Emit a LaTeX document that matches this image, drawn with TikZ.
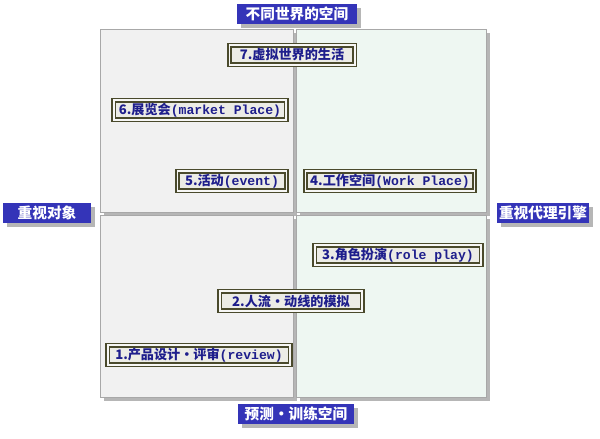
\documentclass[tikz,border=0pt]{standalone}
\usepackage{fontspec}
\setmainfont{Noto Sans CJK SC}
\newfontfamily\latmono{Liberation Mono}
\usepackage{tikz}
\usepackage{xcolor}
\usetikzlibrary{shadows}
\definecolor{axisBlue}{HTML}{3434B8}
\definecolor{itemText}{HTML}{1E1E8C}
\definecolor{itemFrame}{HTML}{4A4A2C}
\definecolor{itemFill}{HTML}{ECECE6}
\definecolor{quadGray}{HTML}{F1F1F1}
\definecolor{quadGreen}{HTML}{EEF7F2}
\definecolor{quadLine}{HTML}{A8A8A8}
\definecolor{shadowGray}{HTML}{B6B6B6}
\newcommand{\pxu}{pt*0.85}
\newcommand{\lat}[1]{{\latmono\bfseries #1}}
\tikzset{
    axisLabel/.style={fill=axisBlue, text=white, font=\fontsize{12.5}{14}\selectfont\bfseries,
        inner sep=0pt, minimum height=21\pxu, drop shadow={shadow xshift=4\pxu, shadow yshift=-4\pxu, fill=shadowGray, opacity=1}},
    itemBox/.style={draw=itemFrame, line width=1.5pt, double=itemFill!40, double distance=1.3pt,
        fill=itemFill, text=itemText, font=\fontsize{11.2}{13}\selectfont\bfseries, inner sep=0pt, minimum height=20\pxu},
    quad/.style={draw=quadLine, line width=0.8pt}
}
\begin{document}
\begin{tikzpicture}[x=0.03cm, y=-0.03cm]
    \useasboundingbox (0,0) rectangle (600,438);
    % --- quadrants ---
    \fill[shadowGray] (104,33) rectangle (297,216);
    \fill[shadowGray] (300,33) rectangle (490,216);
    \fill[shadowGray] (104,219) rectangle (297,401);
    \fill[shadowGray] (300,219) rectangle (490,401);
    \draw[quad, fill=quadGray] (100,29) rectangle (293,212);
    \draw[quad, fill=quadGreen] (296,29) rectangle (486,212);
    \draw[quad, fill=quadGray] (100,215) rectangle (293,397);
    \draw[quad, fill=quadGreen] (296,215) rectangle (486,397);
    % --- axis labels ---
    \node[axisLabel, minimum width=121\pxu] (top) at (297,14) {不同世界的空间};
    \node[axisLabel, minimum width=89\pxu] (left) at (47,213) {重视对象};
    \node[axisLabel, minimum width=92\pxu] (right) at (543,213) {重视代理引擎};
    \node[axisLabel, minimum width=117\pxu] (bottom) at (296,414) {预测・训练空间};
    % --- items ---
    \node[itemBox, minimum width=126\pxu] (virtual) at (292,55) {7.虚拟世界的生活};
    \node[itemBox, minimum width=173\pxu] (market) at (200,110) {6.展览会\lat{(market Place)}};
    \node[itemBox, minimum width=109\pxu] (event) at (232,181) {5.活动\lat{(event)}};
    \node[itemBox, minimum width=170\pxu] (work) at (390,181) {4.工作空间\lat{(Work Place)}};
    \node[itemBox, minimum width=167\pxu] (role) at (398,255) {3.角色扮演\lat{(role play)}};
    \node[itemBox, minimum width=143\pxu] (flow) at (291,301) {2.人流・动线的模拟};
    \node[itemBox, minimum width=183\pxu] (review) at (199,355) {1.产品设计・评审\lat{(review)}};
\end{tikzpicture}
\end{document}
